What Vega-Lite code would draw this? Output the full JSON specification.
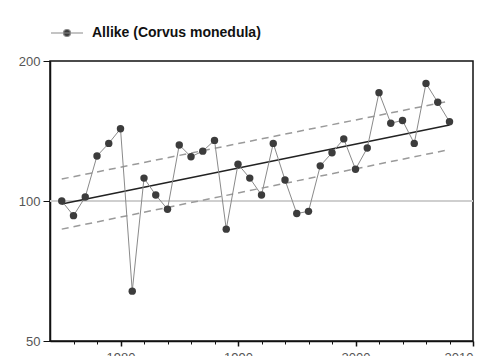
{
  "$schema": "https://vega.github.io/schema/vega-lite/v6.json",
  "autosize": "none",
  "width": 423,
  "height": 280,
  "padding": {"left": 50, "top": 61, "right": 18, "bottom": 15},
  "background": "white",
  "config": {
    "font": "Liberation Sans",
    "view": {"stroke": "#111", "strokeWidth": 1.5},
    "axis": {"grid": false, "domainColor": "#111", "domainWidth": 1.5, "tickColor": "#111", "labelColor": "#555", "labelFont": "Liberation Sans", "labelFontSize": 13, "title": null}
  },
  "datasets": {
    "series": [
      {"year": 1975, "index": 100}, {"year": 1976, "index": 93}, {"year": 1977, "index": 102},
      {"year": 1978, "index": 125}, {"year": 1979, "index": 133}, {"year": 1980, "index": 143},
      {"year": 1981, "index": 64}, {"year": 1982, "index": 112}, {"year": 1983, "index": 103},
      {"year": 1984, "index": 96}, {"year": 1985, "index": 132}, {"year": 1986, "index": 124.5},
      {"year": 1987, "index": 128}, {"year": 1988, "index": 135}, {"year": 1989, "index": 87},
      {"year": 1990, "index": 120}, {"year": 1991, "index": 112}, {"year": 1992, "index": 103},
      {"year": 1993, "index": 133}, {"year": 1994, "index": 111}, {"year": 1995, "index": 94},
      {"year": 1996, "index": 95}, {"year": 1997, "index": 119}, {"year": 1998, "index": 127},
      {"year": 1999, "index": 136}, {"year": 2000, "index": 117}, {"year": 2001, "index": 130},
      {"year": 2002, "index": 171}, {"year": 2003, "index": 147}, {"year": 2004, "index": 149},
      {"year": 2005, "index": 133}, {"year": 2006, "index": 179}, {"year": 2007, "index": 163},
      {"year": 2008, "index": 148}
    ],
    "trend": [
      {"year": 1975, "value": 98.5, "line": "trend"}, {"year": 2008, "value": 145.7, "line": "trend"}
    ],
    "ci": [
      {"year": 1975, "value": 111.5, "line": "upper"}, {"year": 2008, "value": 164, "line": "upper"},
      {"year": 1975, "value": 87, "line": "lower"}, {"year": 2008, "value": 129, "line": "lower"}
    ],
    "ref": [{"value": 100}]
  },
  "layer": [
    {
      "data": {"name": "ref"},
      "mark": {"type": "rule", "color": "#cfcfcf", "strokeWidth": 2},
      "encoding": {"y": {"field": "value", "type": "quantitative", "scale": {"type": "log", "domain": [50, 200], "nice": false},
        "axis": {"orient": "left", "values": [50, 100, 200], "format": "d", "tickSize": 7, "labelPadding": 3}}}
    },
    {
      "data": {"name": "ci"},
      "mark": {"type": "line", "color": "#9a9a9a", "strokeWidth": 1.5, "strokeDash": [7, 5]},
      "encoding": {
        "x": {"field": "year", "type": "quantitative", "scale": {"domain": [1974, 2010], "nice": false, "zero": false}, "axis": null},
        "y": {"field": "value", "type": "quantitative", "scale": {"type": "log", "domain": [50, 200], "nice": false},
          "axis": {"orient": "left", "values": [50, 100, 200], "format": "d", "tickSize": 7, "labelPadding": 3}},
        "detail": {"field": "line"}
      }
    },
    {
      "data": {"name": "trend"},
      "mark": {"type": "line", "color": "#222", "strokeWidth": 1.5},
      "encoding": {
        "x": {"field": "year", "type": "quantitative", "scale": {"domain": [1974, 2010], "nice": false, "zero": false},
          "axis": {"orient": "bottom", "values": [1976, 1978, 1982, 1984, 1986, 1988, 1992, 1994, 1996, 1998, 2002, 2004, 2006, 2008], "labels": false, "tickSize": 3, "domain": false}},
        "y": {"field": "value", "type": "quantitative", "scale": {"type": "log", "domain": [50, 200], "nice": false},
          "axis": {"orient": "left", "values": [50, 100, 200], "format": "d", "tickSize": 7, "labelPadding": 3}}
      }
    },
    {
      "data": {"name": "series"},
      "mark": {"type": "line", "color": "#8a8a8a", "strokeWidth": 1},
      "encoding": {
        "x": {"field": "year", "type": "quantitative", "scale": {"domain": [1974, 2010], "nice": false, "zero": false}, "axis": null},
        "y": {"field": "index", "type": "quantitative", "scale": {"type": "log", "domain": [50, 200], "nice": false},
          "axis": {"orient": "left", "values": [50, 100, 200], "format": "d", "tickSize": 7, "labelPadding": 3}}
      }
    },
    {
      "data": {"name": "series"},
      "transform": [{"calculate": "'Allike (Corvus monedula)'", "as": "species"}],
      "mark": {"type": "point", "filled": true, "size": 55, "opacity": 1},
      "encoding": {
        "x": {"field": "year", "type": "quantitative", "scale": {"domain": [1974, 2010], "nice": false, "zero": false},
          "axis": {"orient": "bottom", "values": [1980, 1990, 2000, 2010], "format": "d", "tickSize": 5, "tickWidth": 1.5, "labelPadding": 5}},
        "y": {"field": "index", "type": "quantitative", "scale": {"type": "log", "domain": [50, 200], "nice": false},
          "axis": {"orient": "left", "values": [50, 100, 200], "format": "d", "tickSize": 7, "labelPadding": 3}},
        "color": {"field": "species", "type": "nominal",
          "scale": {"range": ["#3c3c3c"]},
          "legend": {
            "title": null, "orient": "none", "legendX": 0, "legendY": -45, "padding": 0,
            "symbolType": "M-1,0L1,0M0.22,0A0.22,0.22,0,1,1,-0.22,0A0.22,0.22,0,1,1,0.22,0Z",
            "symbolSize": 1024, "symbolFillColor": "#3c3c3c", "symbolStrokeColor": "#8a8a8a", "symbolStrokeWidth": 1.2,
            "labelOffset": 8, "labelLimit": 400, "labelFont": "Liberation Sans", "labelFontSize": 14, "labelFontWeight": "bold", "labelColor": "#111"
          }}
      }
    }
  ],
  "resolve": {"axis": {"x": "independent"}}
}
